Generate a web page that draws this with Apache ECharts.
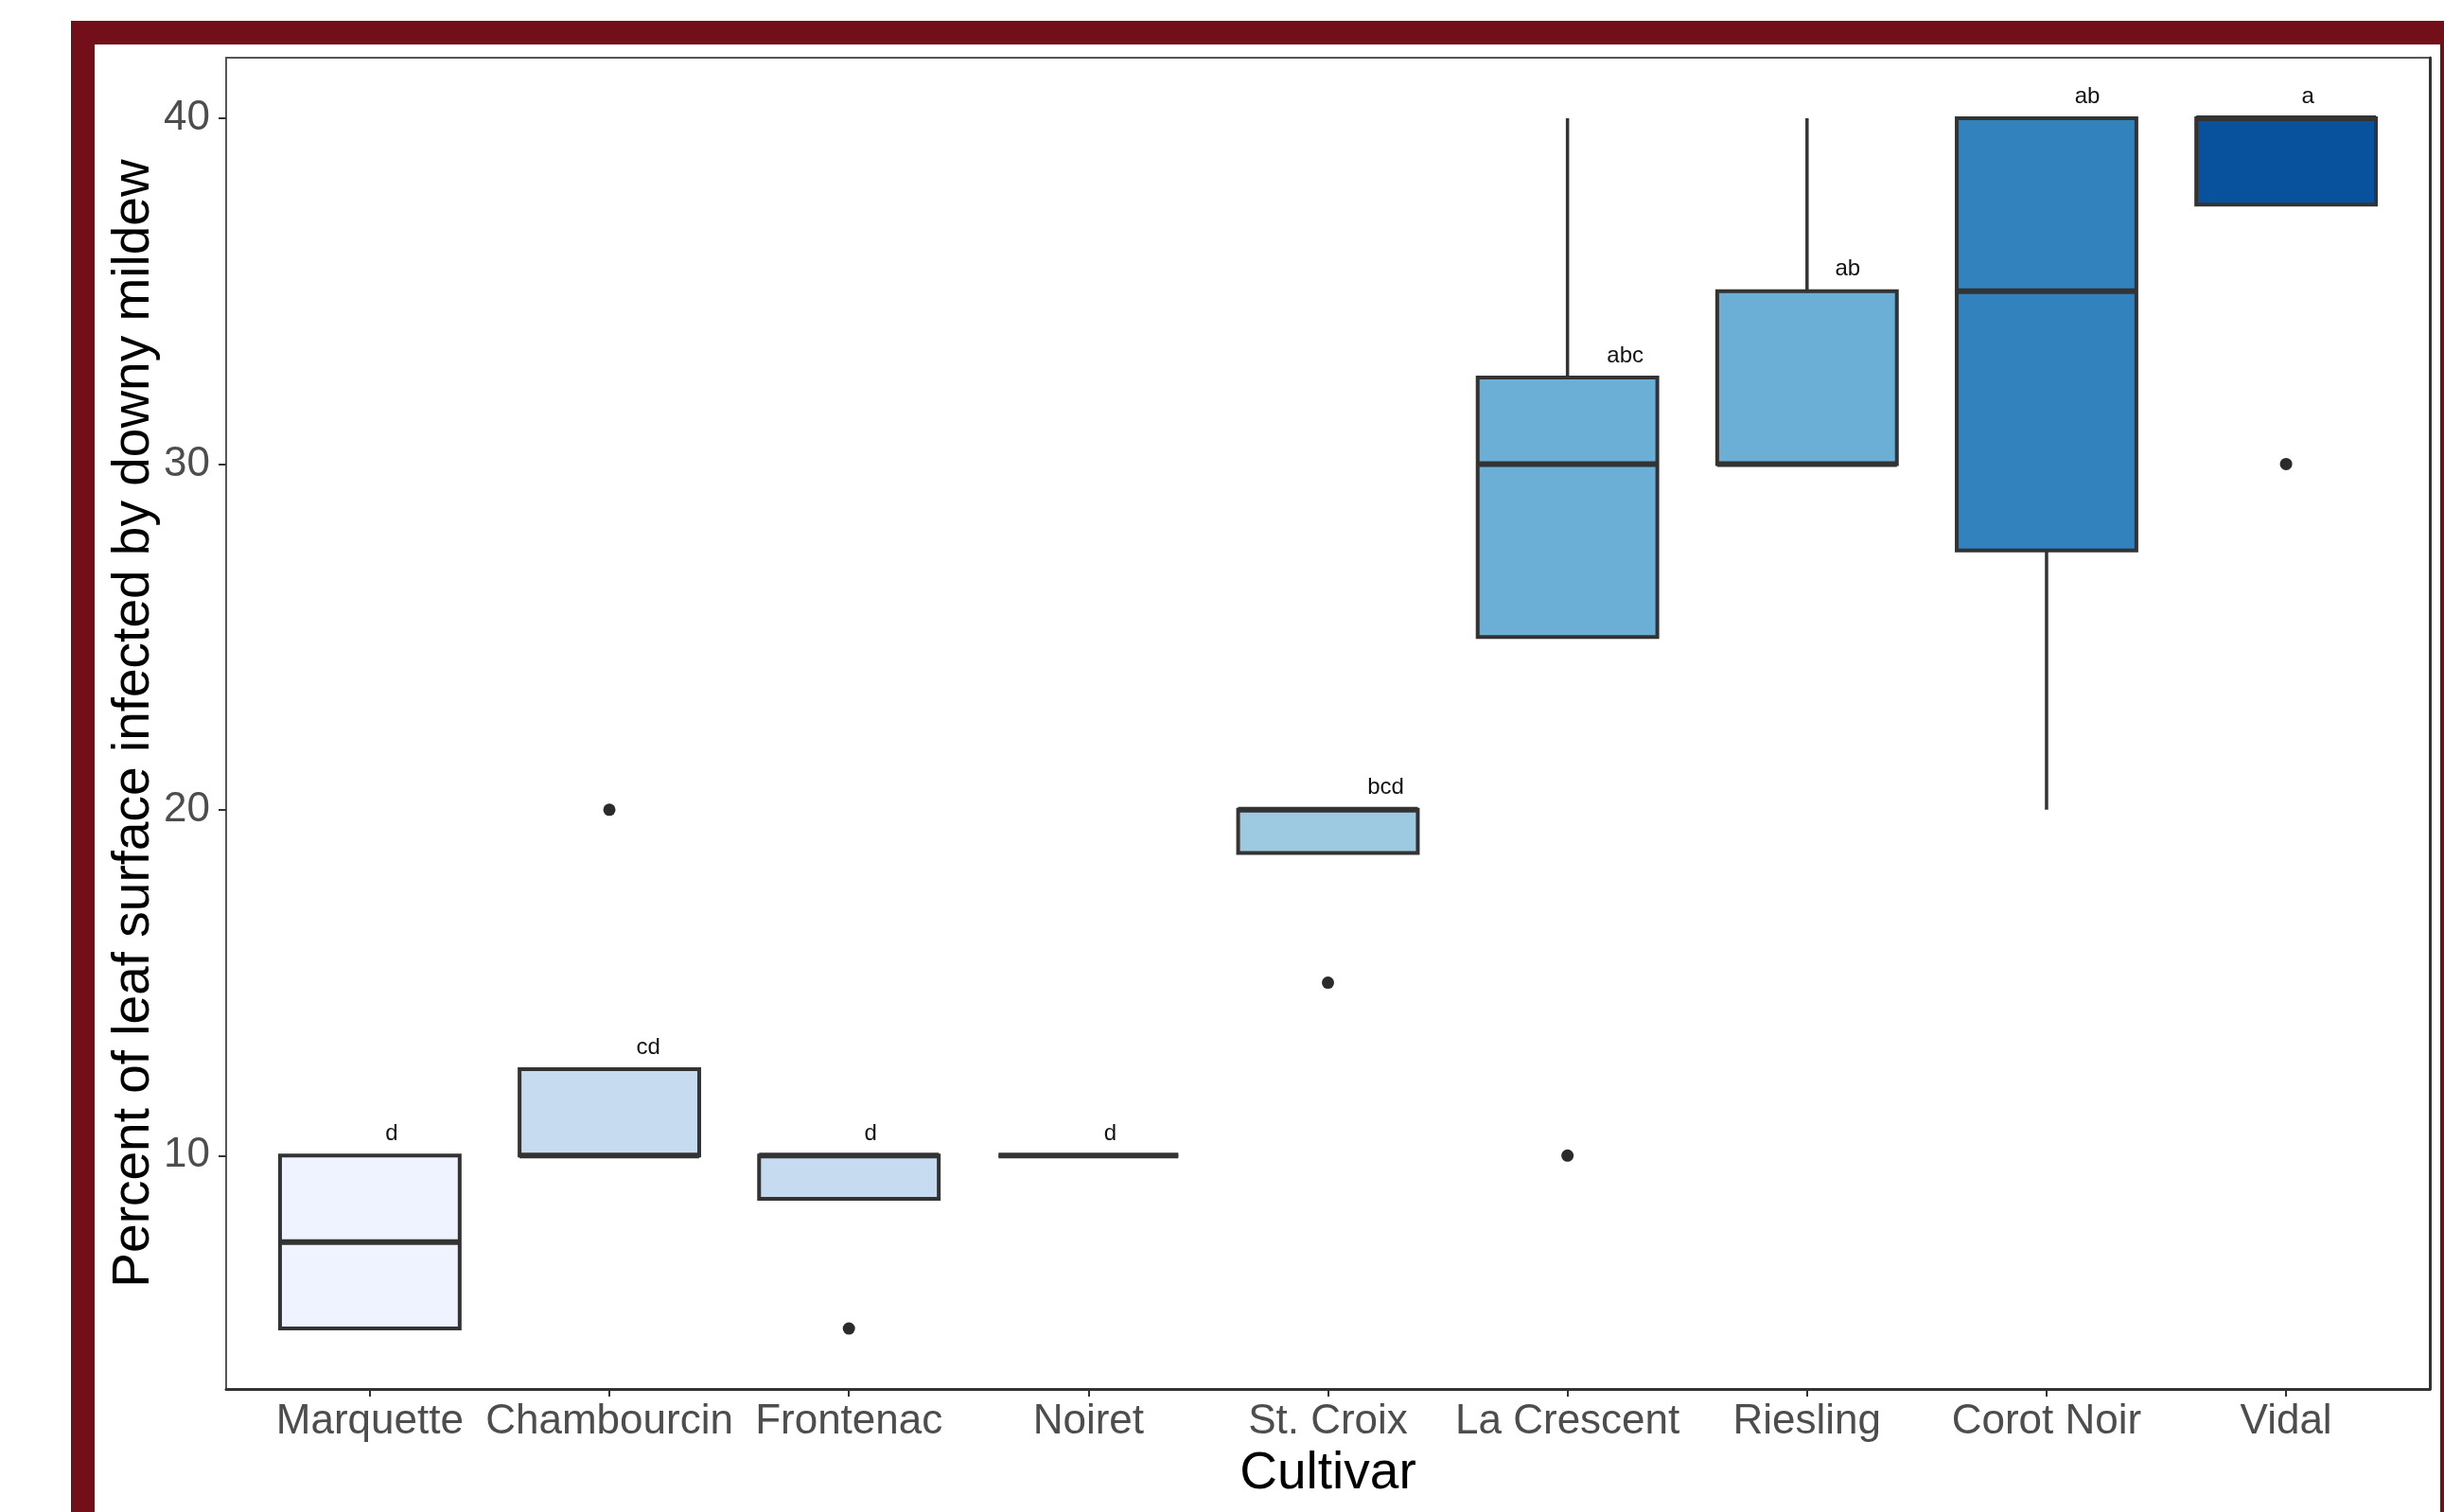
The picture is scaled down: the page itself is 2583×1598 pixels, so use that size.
<!DOCTYPE html>
<html><head><meta charset="utf-8">
<script src="https://cdn.jsdelivr.net/npm/echarts@6/dist/echarts.min.js"></script>
<style>html,body{margin:0;padding:0;background:#fff}#c{width:2583px;height:1598px}</style>
</head><body><div id="c"></div>
<script>
// ---- data ----
const cultivars = ['Marquette','Chambourcin','Frontenac','Noiret','St. Croix','La Crescent','Riesling','Corot Noir','Vidal'];
const whiskerLow  = [5, 10, 8.75, 10, 18.75, 25, 30, 20, 37.5];
const q1          = [5, 10, 8.75, 10, 18.75, 25, 30, 27.5, 37.5];
const median      = [7.5, 10, 10, 10, 20, 30, 30, 35, 40];
const q3          = [10, 12.5, 10, 10, 20, 32.5, 35, 40, 40];
const whiskerHigh = [10, 12.5, 10, 10, 20, 40, 40, 40, 40];
const outlierCultivar = [1, 2, 4, 5, 8];
const outlierValue    = [20, 5, 15, 10, 30];
const groupLetters = ['d','cd','d','d','bcd','abc','ab','ab','a'];
const fillColors = ['#EFF3FF','#C6DBEF','#C6DBEF','#C6DBEF','#9ECAE1','#6BAED6','#6BAED6','#3182BD','#08519C'];
const yTicks = [10, 20, 30, 40];
const xTicks = cultivars.map((c, i) => i);

const FONT = '"Liberation Sans", Arial, Helvetica, sans-serif';
const LINE = '#333333';
const MAROON = '#720F18';

const boxData = cultivars.map((c, i) => [i, whiskerLow[i], q1[i], median[i], q3[i], whiskerHigh[i]]);
const outlierData = outlierCultivar.map((c, k) => [c, outlierValue[k]]);
const letterData = cultivars.map((c, i) => [i, q3[i]]);

const measureCtx = document.createElement('canvas').getContext('2d');
measureCtx.font = '24px ' + FONT;

function renderBox(params, api) {
  const i = api.value(0);
  const xc = api.coord([i, 0])[0];
  const half = api.size([0.375, 0])[0];
  const yLo = api.coord([i, api.value(1)])[1];
  const yQ1 = api.coord([i, api.value(2)])[1];
  const yMed = api.coord([i, api.value(3)])[1];
  const yQ3 = api.coord([i, api.value(4)])[1];
  const yHi = api.coord([i, api.value(5)])[1];
  return {
    type: 'group',
    children: [
      {type: 'line', shape: {x1: xc, y1: yQ3, x2: xc, y2: yHi}, style: {stroke: LINE, lineWidth: 3.5}},
      {type: 'line', shape: {x1: xc, y1: yQ1, x2: xc, y2: yLo}, style: {stroke: LINE, lineWidth: 3.5}},
      {type: 'rect', shape: {x: xc - half, y: yQ3, width: 2 * half, height: yQ1 - yQ3},
       style: {fill: fillColors[i], stroke: LINE, lineWidth: 4}},
      {type: 'line', shape: {x1: xc - half, y1: yMed, x2: xc + half, y2: yMed}, style: {stroke: LINE, lineWidth: 6}}
    ]
  };
}

function renderLetter(params, api) {
  const i = api.value(0);
  const p = api.coord([i, api.value(1)]);
  const txt = groupLetters[i];
  const w = measureCtx.measureText(txt).width;
  return {
    type: 'text',
    x: p[0] + w + 3,
    y: p[1] - 11,
    style: {text: txt, fontSize: 24, fontFamily: FONT, fill: '#111', align: 'left', verticalAlign: 'bottom'}
  };
}

const chart = echarts.init(document.getElementById('c'), null, {renderer: 'canvas'});
chart.setOption({
  animation: false,
  backgroundColor: '#ffffff',
  graphic: [
    {type: 'rect', shape: {x: 75, y: 22, width: 2508, height: 25}, style: {fill: MAROON}, silent: true},
    {type: 'rect', shape: {x: 75, y: 22, width: 25, height: 1576}, style: {fill: MAROON}, silent: true},
    {type: 'rect', shape: {x: 2579, y: 22, width: 4, height: 1576}, style: {fill: MAROON}, silent: true}
  ],
  grid: {left: 239, right: 15, top: 61, bottom: 130, show: true, borderColor: '#555', borderWidth: 2, backgroundColor: 'transparent'},
  xAxis: {
    type: 'value', min: -0.6, max: 8.6,
    axisLine: {show: true, onZero: false, lineStyle: {color: LINE, width: 3}},
    axisTick: {show: true, customValues: xTicks, length: 8, lineStyle: {color: LINE, width: 2}},
    axisLabel: {customValues: xTicks, formatter: v => cultivars[Math.round(v)], fontSize: 44, fontFamily: FONT, color: '#4d4d4d', margin: 13},
    splitLine: {show: false},
    name: 'Cultivar', nameLocation: 'middle', nameGap: 60,
    nameTextStyle: {fontSize: 55, fontFamily: FONT, color: '#000'}
  },
  yAxis: [{
    type: 'value', min: 3.25, max: 41.75, position: 'left',
    axisLine: {show: true, onZero: false, lineStyle: {color: '#555', width: 2}},
    axisTick: {show: true, customValues: yTicks, length: 8, lineStyle: {color: LINE, width: 2}},
    axisLabel: {customValues: yTicks, fontSize: 44, fontFamily: FONT, color: '#4d4d4d', margin: 17},
    splitLine: {show: false},
    name: 'Percent of leaf surface infected by downy mildew', nameLocation: 'middle', nameGap: 70,
    nameMoveOverlap: false,
    nameTextStyle: {fontSize: 55, fontFamily: FONT, color: '#000'}
  }, {
    type: 'value', position: 'right', min: 3.25, max: 41.75,
    axisLine: {show: true, onZero: false, lineStyle: {color: LINE, width: 3}},
    axisTick: {show: false}, axisLabel: {show: false}, splitLine: {show: false}
  }],
  series: [
    {type: 'custom', renderItem: renderBox, data: boxData, encode: {x: 0, y: [1, 2, 3, 4, 5]}, clip: true},
    {type: 'scatter', data: outlierData, symbol: 'circle', symbolSize: 13, itemStyle: {color: '#2b2b2b', opacity: 1}},
    {type: 'custom', renderItem: renderLetter, data: letterData, encode: {x: 0, y: 1}}
  ]
});
</script>
</body></html>
